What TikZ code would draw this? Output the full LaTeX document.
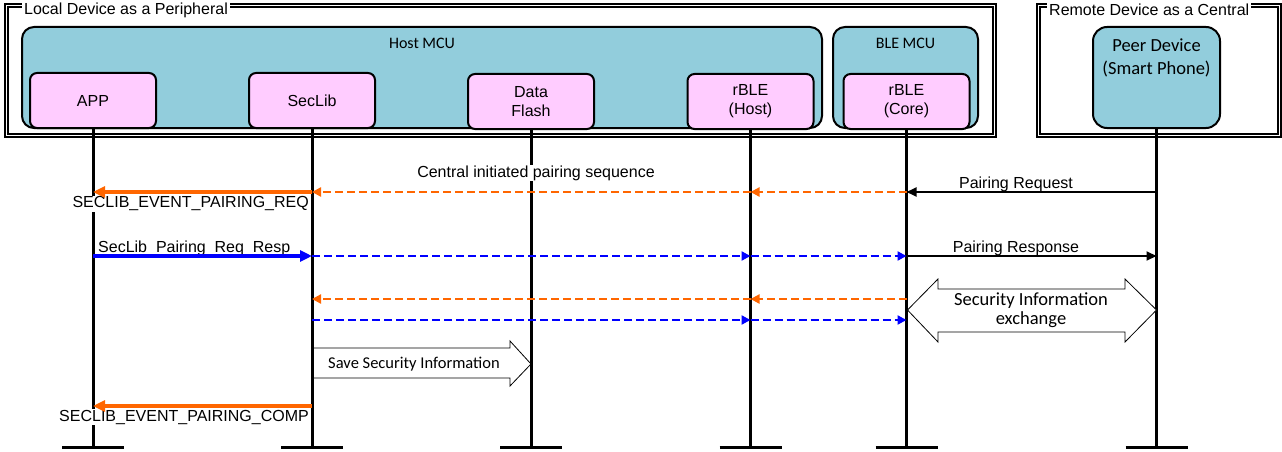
\documentclass[tikz,border=0pt]{standalone}
\usepackage{fontspec}
\setmainfont{Liberation Sans}
\newfontfamily\calibfont{Carlito}
\usepackage{tikz}
\usetikzlibrary{arrows.meta}
\usetikzlibrary{calc}
\definecolor{mcublue}{RGB}{146,205,220}
\definecolor{modpink}{RGB}{255,204,255}
\definecolor{msgorange}{RGB}{255,102,0}
\definecolor{msgblue}{RGB}{0,0,255}
\newcommand{\armfont}{\fontsize{16}{19}\selectfont}
\newcommand{\mcufont}{\calibfont\fontsize{16}{19}\selectfont}
\newcommand{\peerfont}{\calibfont\fontsize{18.5}{23}\selectfont}
\newcommand{\infofont}{\calibfont\fontsize{18.5}{19}\selectfont}
\tikzset{
  devframe/.style={draw=black,line width=1.1pt},
  framelabel/.style={fill=white,inner sep=2pt,font=\armfont},
  mcubox/.style={draw=black,fill=mcublue,line width=2pt,rounded corners=12pt,inner sep=0pt},
  modbox/.style={draw=black,fill=modpink,line width=2pt,rounded corners=7pt,
    minimum width=126pt,minimum height=55pt,align=center,font=\armfont},
  lifeline/.style={draw=black,line width=3pt},
  basebar/.style={draw=black,line width=3pt},
  omsg/.style={draw=msgorange,line width=3.8pt,-{Triangle[length=12pt,width=11pt]}},
  odash/.style={draw=msgorange,line width=2.3pt,dash pattern=on 8pt off 4pt,-{Triangle[length=9pt,width=9pt]}},
  bmsg/.style={draw=msgblue,line width=3.8pt,-{Triangle[length=12pt,width=11pt]}},
  bdash/.style={draw=msgblue,line width=2.3pt,dash pattern=on 8pt off 4pt,-{Triangle[length=9pt,width=9pt]}},
  kmsg/.style={draw=black,line width=2pt,-{Triangle[length=10pt,width=9pt]}},
  blockarrow/.style={draw=black,fill=white,line width=0.8pt},
  msgtext/.style={font=\armfont,inner sep=1pt},
  evtext/.style={font=\armfont,inner sep=1pt,fill=white}
}

\begin{document}
\begin{tikzpicture}[x=1pt,y=-1pt]
  \useasboundingbox (0,0) rectangle (1282,452);
  \coordinate (BOT) at (0,447.5);
  \coordinate (R1) at (0,192);
  \coordinate (R2) at (0,256);
  \coordinate (R3) at (0,299);
  \coordinate (R4) at (0,320);
  \coordinate (R5) at (0,406);
  % device frames
  \draw (5,4) rectangle (996,137) [devframe];
  \draw (8,7) rectangle (993,134) [devframe];
  \draw (1037,4) rectangle (1281,137) [devframe];
  \draw (1040,7) rectangle (1278,134) [devframe];
  \node (LOCALT)  [framelabel,anchor=west] at (22,10)   {Local Device as a Peripheral};
  \node (REMOTET) [framelabel,anchor=west] at (1047,10) {Remote Device as a Central};
  % processors and modules
  \node (HOST)   [mcubox,minimum width=800pt,minimum height=101pt] at (422,77.5) {};
  \node (BLEMCU) [mcubox,minimum width=145pt,minimum height=101pt] at (905.5,77.5) {};
  \node (PEER)   [mcubox,rounded corners=14pt,minimum width=127pt,minimum height=101pt] at (1156.5,77.5) {};
  \node (HOSTT)  [font=\mcufont] at (422,43)   {Host MCU};
  \node (BLET)   [font=\mcufont] at (905.5,43) {BLE MCU};
  \node (PEERT)  [font=\peerfont,align=center] at (1156.5,58) {Peer Device\\(Smart Phone)};
  \node (APP)    [modbox] at (93,100.5)    {APP};
  \node (SECLIB) [modbox] at (312,100.5)   {SecLib};
  \node (FLASH)  [modbox] at (531,101.5)   {Data\\Flash};
  \node (RBLEH)  [modbox] at (750.5,101.5) {rBLE\\(Host)};
  \node (RBLEC)  [modbox] at (906.5,101.5) {rBLE\\(Core)};
  % lifelines
  \draw (APP.south)    -- (APP |- BOT)    [lifeline];
  \draw (SECLIB.south) -- (SECLIB |- BOT) [lifeline];
  \draw (FLASH.south)  -- (FLASH |- BOT)  [lifeline];
  \draw (RBLEH.south)  -- (RBLEH |- BOT)  [lifeline];
  \draw (RBLEC.south)  -- (RBLEC |- BOT)  [lifeline];
  \draw (PEER.south)   -- (PEER |- BOT)   [lifeline];
  \draw ($(APP |- BOT)+(-31,0)$)    -- ($(APP |- BOT)+(31,0)$)    [basebar];
  \draw ($(SECLIB |- BOT)+(-31,0)$) -- ($(SECLIB |- BOT)+(31,0)$) [basebar];
  \draw ($(FLASH |- BOT)+(-31,0)$)  -- ($(FLASH |- BOT)+(31,0)$)  [basebar];
  \draw ($(RBLEH |- BOT)+(-31,0)$)  -- ($(RBLEH |- BOT)+(31,0)$)  [basebar];
  \draw ($(RBLEC |- BOT)+(-31,0)$)  -- ($(RBLEC |- BOT)+(31,0)$)  [basebar];
  \draw ($(PEER |- BOT)+(-31,0)$)   -- ($(PEER |- BOT)+(31,0)$)   [basebar];
  % labels
  \node (SEQT)  [evtext] at (536,173) {Central initiated pairing sequence};
  \node (REQEV) [evtext,anchor=east] at (310,204) {SECLIB\_EVENT\_PAIRING\_REQ};
  \node (CMPEV) [evtext,anchor=east] at (310,417) {SECLIB\_EVENT\_PAIRING\_COMP};
  \node (RESPT) [msgtext,anchor=base west] at (97,252) {SecLib\_Pairing\_Req\_Resp};
  \node (PREQT) [msgtext,anchor=base] at (1016,188) {Pairing Request};
  \node (PRSPT) [msgtext,anchor=base] at (1016,252) {Pairing Response};
  % block arrows
  \draw (313.5,348) -- (510,348) -- (510,341) -- (531,364) -- (510,386) -- (510,378)
    -- (313.5,378) -- cycle [blockarrow];
  \node (SAVET) [font=\calibfont\fontsize{16.5}{19}\selectfont] at (414,364) {Save Security Information};
  \draw (907.5,310) -- (938,279) -- (938,289) -- (1125,289) -- (1125,279) -- (1156.5,310)
    -- (1125,342) -- (1125,332) -- (938,332) -- (938,342) -- cycle [blockarrow];
  \node (XCHT) [font=\infofont,align=center] at (1031,310) {Security Information\\exchange};
  % messages
  \draw (SECLIB |- R1) -- (APP |- R1)    [omsg];
  \draw (RBLEC |- R1)  -- (RBLEH |- R1)  [odash];
  \draw (RBLEH |- R1)  -- (SECLIB |- R1) [odash];
  \draw (PEER |- R1)   -- (RBLEC |- R1)  [kmsg];
  \draw (APP |- R2)    -- (SECLIB |- R2) [bmsg];
  \draw (SECLIB |- R2) -- (RBLEH |- R2)  [bdash];
  \draw (RBLEH |- R2)  -- (RBLEC |- R2)  [bdash];
  \draw (RBLEC |- R2)  -- (PEER |- R2)   [kmsg];
  \draw (RBLEC |- R3)  -- (RBLEH |- R3)  [odash];
  \draw (RBLEH |- R3)  -- (SECLIB |- R3) [odash];
  \draw (SECLIB |- R4) -- (RBLEH |- R4)  [bdash];
  \draw (RBLEH |- R4)  -- (RBLEC |- R4)  [bdash];
  \draw (SECLIB |- R5) -- (APP |- R5)    [omsg];
\end{tikzpicture}
\end{document}
